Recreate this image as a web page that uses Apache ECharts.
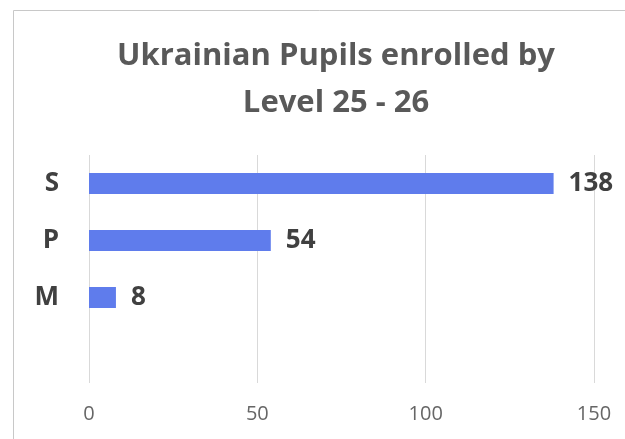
<!DOCTYPE html>
<html><head><meta charset="utf-8">
<script src="https://cdn.jsdelivr.net/npm/echarts@6/dist/echarts.min.js"></script>
<style>html,body{margin:0;padding:0;background:#fff}#c{width:625px;height:439px}</style>
</head><body><div id="c"></div>
<script>
const titleText = 'Ukrainian Pupils enrolled by\nLevel 25 - 26';
const categories = ['S', 'P', 'M', ''];
const values = [138, 54, 8, null];
const xTicks = [0, 50, 100, 150];

const chart = echarts.init(document.getElementById('c'), null, {renderer: 'canvas'});
chart.setOption({
  animation: false,
  backgroundColor: '#fff',
  graphic: [{
    type: 'rect', shape: {x: 13.5, y: 10.5, width: 700, height: 500},
    style: {fill: 'none', stroke: '#c8c8c8', lineWidth: 1}, silent: true
  }],
  title: {
    text: titleText, left: 331, top: 28, textAlign: 'center',
    textStyle: {fontFamily: 'Open Sans', fontWeight: 'bold', fontSize: 31, color: '#595959', lineHeight: 47}
  },
  grid: {left: 89, right: 31, top: 155, bottom: 56, containLabel: false},
  xAxis: {
    type: 'value', min: xTicks[0], max: xTicks[xTicks.length - 1], interval: 50,
    axisLine: {show: false}, axisTick: {show: false},
    splitLine: {lineStyle: {color: '#d9d9d9', width: 1}},
    axisLabel: {color: '#666666', fontSize: 20, fontFamily: 'Open Sans', margin: 21}
  },
  yAxis: {
    type: 'category', data: categories, inverse: true,
    axisLine: {show: false}, axisTick: {show: false},
    axisLabel: {color: '#404040', fontSize: 26, fontWeight: 'bold', fontFamily: 'Open Sans', margin: 30}
  },
  series: [{
    type: 'bar', data: values, barWidth: 21,
    itemStyle: {color: '#5f7cec'},
    label: {show: true, position: 'right', distance: 15, color: '#404040', fontSize: 26, fontWeight: 'bold', fontFamily: 'Open Sans'}
  }]
});
</script></body></html>
